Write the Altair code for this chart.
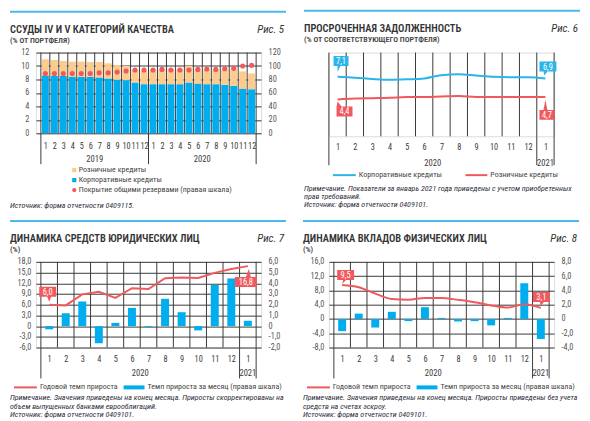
import altair as alt
import pandas as pd

FONT = "Liberation Sans Narrow, Roboto Condensed, Arial Narrow, Roboto, sans-serif"
BLUE = "#00AEEF"
ORANGE = "#FDCB8C"
RED = "#F05A5E"
LBLUE = "#2BB5EA"
TOPLINE = "#4DB9E8"
GRID = "#3b3b3b"
TXT = "#3a3a3a"
NOTE = "#2e2e3a"

# ---------------- data ----------------
# Fig. 5
p1_year = [2019] * 12 + [2020] * 12
p1_corporate = [8.6, 8.55, 8.55, 8.4, 8.4, 8.4, 8.3, 8.15, 7.95, 7.9, 7.55, 7.3,
                7.3, 7.3, 7.3, 7.3, 7.55, 7.4, 7.3, 7.3, 7.2, 7.05, 6.65, 6.55]
p1_retail = [2.4, 2.35, 2.2, 2.25, 2.25, 2.2, 2.3, 2.25, 2.2, 2.1, 1.85, 2.0,
             2.2, 2.2, 2.2, 2.2, 2.45, 2.1, 2.2, 2.2, 2.3, 2.45, 2.55, 2.35]
p1_coverage = [89, 89, 89, 89, 89, 89, 90, 90, 91, 92.5, 94, 94,
               94, 95, 94, 94, 94, 95, 95.5, 95, 96, 96.5, 100, 101]
p1_legend = ["Розничные кредиты", "Корпоративные кредиты",
             "Покрытие общими резервами (правая шкала)"]

# Fig. 6-8 (months 2020-01 .. 2021-01)
m_year = [2020] * 12 + [2021]
p2_corporate = [7.1, 7.0, 6.85, 6.75, 6.8, 6.9, 7.3, 7.4, 7.25, 7.1, 7.05, 7.05, 6.9]
p2_retail = [4.4, 4.5, 4.55, 4.6, 4.7, 4.7, 4.75, 4.8, 4.7, 4.7, 4.7, 4.7, 4.7]
p3_annual = [6.0, 5.8, 8.9, 9.6, 7.9, 10.6, 10.4, 13.4, 13.6, 13.5, 14.9, 16.0, 16.8]
p3_monthly = [-0.3, 1.2, 2.3, -1.6, 0.3, 1.7, -0.1, 2.55, 1.3, -0.4, 3.85, 4.45, 0.5]
p4_annual = [9.5, 8.9, 7.1, 5.6, 5.4, 5.9, 5.9, 5.35, 4.7, 3.8, 3.2, 4.15, 3.1]
p4_monthly = [-1.7, 0.75, -1.2, 1.0, -0.3, 1.65, 0.15, -0.35, -0.3, -0.9, 0.15, 5.0, -2.8]

W = 226
LEG = 8
NOTE_SIZE = 8
LABEL_EXPR_DEC = ("datum.value == 0 ? '0' : (datum.value < 0 ? '-' : '') + "
                  "replace(format(abs(datum.value), '.1f'), '.', ',')")


def fmt(v):
    return f"{v:.1f}".replace(".", ",")


def xenc(n, pad):
    return alt.X("i:Q", scale=alt.Scale(domain=[0.5, n + 0.5], nice=False, zero=False),
                 axis=alt.Axis(values=list(range(1, n + 1)),
                               labelExpr="datum.value > 12 ? datum.value - 12 : datum.value",
                               labelPadding=pad, grid=False, domain=False, ticks=False,
                               labelAngle=0, labelFontSize=8.3, labelColor=TXT, title=None,
                               labelOverlap=False, labelFlush=False, labelFont=FONT))


def yaxis(values, orient, pad, expr=None):
    kw = dict(values=values, orient=orient, labelPadding=pad, domain=False, ticks=False,
              grid=(orient == "left"), gridColor=GRID, gridWidth=1, gridOpacity=1,
              labelFontSize=8.3, labelColor="#555555", title=None, labelFont=FONT)
    if expr:
        kw["labelExpr"] = expr
    return alt.Axis(**kw)


def txt(s, x, y, size=8, color=TXT, align="left", baseline="middle", style="normal",
        weight="normal", lh=None):
    kw = dict(align=align, baseline=baseline, fontSize=size, color=color,
              fontStyle=style, fontWeight=weight, font=FONT)
    if lh:
        kw.update(lineBreak="\n", lineHeight=lh)
    return alt.Chart(pd.DataFrame({"t": [s]})).mark_text(**kw).encode(
        x=alt.value(x), y=alt.value(y), text="t:N")


def hline(x1, x2, y, color, w):
    return alt.Chart(pd.DataFrame({"a": [0]})).mark_rule(color=color, strokeWidth=w).encode(
        x=alt.value(x1), x2=alt.value(x2), y=alt.value(y))


def header(title, sub, fig, xl, xr, ytop):
    return [hline(xl, xr, ytop, TOPLINE, 2),
            txt(title, xl, ytop + 21, 10.5, color="#333333", baseline="alphabetic", weight=600),
            txt(sub, xl, ytop + 31, 8, color="#444444", baseline="alphabetic", weight=600),
            txt(fig, xr - 2, ytop + 21, 11, color="#333333", align="right",
                baseline="alphabetic", style="italic")]


def frame(years, H, pad, ybelow, ysep):
    n = len(years)
    df = pd.DataFrame({"i": range(1, n + 1), "year": years})
    g = df.groupby("year")["i"]
    labs = pd.DataFrame({"i": ((g.min() + g.max()) / 2).values,
                         "t": [str(y) for y in g.min().index]})
    seps = pd.DataFrame({"i": sorted(set((g.min() - 0.5).tolist() + [n + 0.5]))})
    xe = xenc(n, pad)
    vg = alt.Chart(pd.DataFrame({"i": [k + 0.5 for k in range(n + 1)]})).mark_rule(
        color=GRID, strokeWidth=1).encode(x=xe, y=alt.value(0), y2=alt.value(H))
    sp = alt.Chart(seps).mark_rule(color=GRID, strokeWidth=1).encode(
        x=xe, y=alt.value(H), y2=alt.value(H + ysep))
    yl = alt.Chart(labs).mark_text(fontSize=8.6, color=TXT, font=FONT, baseline="middle").encode(
        x=xe, y=alt.value(H + ybelow), text="t:N")
    return xe, [vg, sp, yl]


def callout(xe, yscale, field, i, v, color, path, tx, ty):
    df = pd.DataFrame({"i": [i], field: [v], "lab": [fmt(v)]})
    ye = alt.Y(f"{field}:Q", scale=yscale, axis=None)
    box = alt.Chart(df).mark_point(shape=path, size=4, filled=True, fill=color, opacity=1,
                                   strokeWidth=0).encode(x=xe, y=ye)
    t = alt.Chart(df).mark_text(dx=tx, dy=ty, color="white", fontSize=8.5, font=FONT,
                                baseline="middle", align="center").encode(x=xe, y=ye, text="lab:N")
    return [box, t]


# ---------------- Fig. 5 ----------------
H1 = 81
n1 = len(p1_year)
df1 = pd.DataFrame({"i": range(1, n1 + 1), "corp": p1_corporate, "retail": p1_retail,
                    "cov": p1_coverage})
long1 = df1.melt(id_vars=["i"], value_vars=["corp", "retail"], var_name="s", value_name="v")
long1["o"] = long1["s"].map({"corp": 0, "retail": 1})
xe1, fr1 = frame(p1_year, H1, 8, 26, 31)
bars1 = alt.Chart(long1).mark_bar(size=7).encode(
    x=xe1,
    y=alt.Y("v:Q", stack="zero", scale=alt.Scale(domain=[0, 12], nice=False),
            axis=yaxis(list(range(0, 13, 2)), "left", 7)),
    color=alt.Color("s:N", scale=alt.Scale(domain=["corp", "retail"], range=[BLUE, ORANGE]),
                    legend=None),
    order=alt.Order("o:Q"))
dots1 = alt.Chart(df1).mark_circle(size=26, color=RED, opacity=1).encode(
    x=xe1,
    y=alt.Y("cov:Q", scale=alt.Scale(domain=[0, 120], nice=False),
            axis=yaxis(list(range(0, 121, 20)), "right", 7)))
leg1 = []
for k, (lab, col) in enumerate(zip(p1_legend, [ORANGE, BLUE, RED])):
    yy = 118 + 10 * k
    shape = "circle" if k == 2 else "square"
    leg1.append(alt.Chart(pd.DataFrame({"a": [0]})).mark_point(
        shape=shape, size=18, filled=True, color=col, opacity=1).encode(
        x=alt.value(38.5), y=alt.value(yy)))
    leg1.append(txt(lab, 43, yy, LEG, color="#444444"))
note1 = txt("Источник: форма отчетности 0409115.", -26, 154, NOTE_SIZE, color=NOTE,
            style="italic")
panel1 = alt.layer(
    *header("ССУДЫ IV И V КАТЕГОРИЙ КАЧЕСТВА", "(% ОТ ПОРТФЕЛЯ)", "Рис. 5", -26, 251, -41),
    fr1[0], bars1, dots1, fr1[1], fr1[2], *leg1, note1
).resolve_scale(y="independent").properties(width=W, height=H1)

# ---------------- Fig. 6 ----------------
H2 = 84
n2 = len(m_year)
df2 = pd.DataFrame({"i": range(1, n2 + 1), "corp": p2_corporate, "retail": p2_retail})
xe2, fr2 = frame(m_year, H2, 6, 27, 29)
ys2 = alt.Scale(domain=[0, 10], nice=False)
line2a = alt.Chart(df2).mark_line(strokeWidth=2, interpolate="monotone", color=LBLUE).encode(
    x=xe2, y=alt.Y("corp:Q", scale=ys2, axis=yaxis(list(range(0, 11, 2)), "left", 7)))
line2b = alt.Chart(df2).mark_line(strokeWidth=2, interpolate="monotone", color=RED).encode(
    x=xe2, y=alt.Y("retail:Q", scale=ys2, axis=None))
c2 = []
c2 += callout(xe2, ys2, "corp", 1, p2_corporate[0], LBLUE,
              "M-4,-21 L11,-21 L11,-11 L3,-11 L0,-5 L0,-11 L-4,-11 Z", 3.5, -16)
c2 += callout(xe2, ys2, "retail", 1, p2_retail[0], RED,
              "M-1,7 L0,2 L4,7 L15,7 L15,17 L-1,17 Z", 7, 12)
c2 += callout(xe2, ys2, "corp", n2, p2_corporate[-1], LBLUE,
              "M-6,-17 L11,-17 L11,-7 L2,-7 L-1,-3 L-2,-7 L-6,-7 Z", 2.5, -12)
c2 += callout(xe2, ys2, "retail", n2, p2_retail[-1], RED,
              "M-6,13 L-2,13 L0,3 L2,13 L9,13 L9,23 L-6,23 Z", 1.5, 18)
leg2 = [hline(4, 27, 123, LBLUE, 2), txt("Корпоративные кредиты", 30, 123, LEG, color="#444444"),
        hline(137, 159, 123, RED, 2), txt("Розничные кредиты", 162, 123, LEG, color="#444444")]
note2 = txt("Примечание. Показатели за январь 2021 года приведены с учетом приобретенных\n"
            "прав требований.\nИсточник: форма отчетности 0409101.",
            -25, 137, NOTE_SIZE, color=NOTE, style="italic", lh=8)
panel2 = alt.layer(
    *header("ПРОСРОЧЕННАЯ ЗАДОЛЖЕННОСТЬ", "(% ОТ СООТВЕТСТВУЮЩЕГО ПОРТФЕЛЯ)", "Рис. 6",
            -25, 252, -42),
    fr2[0], line2a, line2b, fr2[1], fr2[2], *c2, *leg2, note2
).properties(width=W, height=H2)


# ---------------- Fig. 7 / Fig. 8 ----------------
def growth_panel(annual, monthly, ldom, lvals, rdom, rvals, interp, calls, title, fig, notes):
    H = 86
    n = len(m_year)
    df = pd.DataFrame({"i": range(1, n + 1), "a": annual, "m": monthly})
    xe, fr = frame(m_year, H, 7, 26, 31)
    ls = alt.Scale(domain=ldom, nice=False, zero=False)
    bars = alt.Chart(df).mark_bar(size=8, color=BLUE).encode(
        x=xe,
        y=alt.Y("m:Q", scale=alt.Scale(domain=rdom, nice=False),
                axis=yaxis(rvals, "right", 7, LABEL_EXPR_DEC)))
    line = alt.Chart(df).mark_line(strokeWidth=2, color=RED, interpolate=interp).encode(
        x=xe, y=alt.Y("a:Q", scale=ls, axis=yaxis(lvals, "left", 5, LABEL_EXPR_DEC)))
    cs = []
    for (i, v, path, tx, ty) in calls:
        cs += callout(xe, ls, "a", i, v, RED, path, tx, ty)
    leg = [hline(-22, 1, 126, RED, 2), txt("Годовой темп прироста", 4, 126, LEG, color="#444444"),
           hline(88, 109, 126, BLUE, 4),
           txt("Темп прироста за месяц (правая шкала)", 112, 126, LEG, color="#444444")]
    note = txt(notes, -26, 137, NOTE_SIZE, color=NOTE, style="italic", lh=8.3)
    return alt.layer(
        *header(title, "(%)", fig, -26, 251, -41),
        fr[0], bars, line, fr[1], fr[2], *cs, *leg, note
    ).resolve_scale(y="independent").properties(width=W, height=H)


panel3 = growth_panel(
    p3_annual, p3_monthly, [-6, 18], list(range(-6, 19, 3)), [-2, 6], list(range(-2, 7)),
    "linear",
    [(1, p3_annual[0], "M-10,-18 L7,-18 L7,-8 L2,-8 L0,-3 L-2,-8 L-10,-8 Z", -1.5, -13),
     (13, p3_annual[-1], "M-13,11 L-2,11 L1,3 L3,11 L9,11 L9,21 L-13,21 Z", -2, 16)],
    "ДИНАМИКА СРЕДСТВ ЮРИДИЧЕСКИХ ЛИЦ", "Рис. 7",
    "Примечание. Значения приведены на конец месяца. Приросты скорректированы на\n"
    "объем выпущенных банками еврооблигаций.\nИсточник: форма отчетности 0409101.")

panel4 = growth_panel(
    p4_annual, p4_monthly, [-8, 16], list(range(-8, 17, 4)), [-4, 8], list(range(-4, 9, 2)),
    "monotone",
    [(1, p4_annual[0], "M-5,-15 L12,-15 L12,-5 L4,-5 L0,-1 L1,-5 L-5,-5 Z", 3.5, -10),
     (13, p4_annual[-1], "M-8,-16 L9,-16 L9,-6 L3,-6 L0,-2 L-1,-6 L-8,-6 Z", 0.5, -11)],
    "ДИНАМИКА ВКЛАДОВ ФИЗИЧЕСКИХ ЛИЦ", "Рис. 8",
    "Примечание. Значения приведены на конец месяца. Приросты приведены без учета\n"
    "средств на счетах эскроу.\nИсточник: форма отчетности 0409101.")

chart = alt.concat(panel1, panel2, panel3, panel4, columns=2,
                   spacing={"row": 126, "column": 68}, bounds="flush").properties(
    padding=0, background="white"
).resolve_scale(color="independent").configure_view(stroke=None).configure(font=FONT)

chart.save("out.html", embed_options={"renderer": "svg", "actions": False})
